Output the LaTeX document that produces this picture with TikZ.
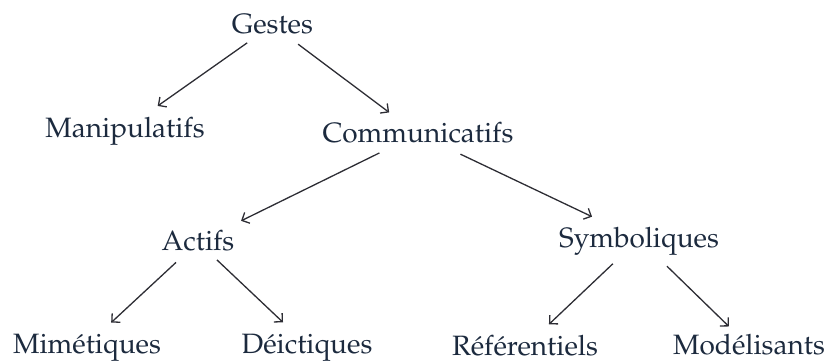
\documentclass[tikz,border=0pt]{standalone}
\usepackage[T1]{fontenc}
\usepackage{mathpazo}
\usetikzlibrary{arrows.meta}
\definecolor{labelink}{RGB}{28,42,62}
\definecolor{edgeink}{RGB}{45,45,52}
\tikzset{
  term/.style={anchor=base, inner sep=0pt, text height=20pt, text depth=4pt,
               text=labelink, font=\fontsize{28}{32}\selectfont},
  link/.style={draw=edgeink, line width=1.3pt,
               -{Straight Barb[length=6pt,width=12pt,line width=1.3pt]}},
}
\begin{document}
\begin{tikzpicture}[x=1pt,y=-1pt]
  \useasboundingbox (0,0) rectangle (828,362);

  % level 0
  \node[term] (g)  at (272.5,33)  {Gestes};
  % level 1
  \node[term] (m)  at (125,137)   {Manipulatifs};
  \node[term] (c)  at (418,142)   {Communicatifs};
  % level 2
  \node[term] (a)  at (198,250)   {Actifs};
  \node[term] (s)  at (639,247)   {Symboliques};
  % level 3
  \node[term] (mi) at (87,353)    {Mim\'etiques};
  \node[term] (d)  at (307,353)   {D\'eictiques};
  \node[term] (r)  at (525,355)   {R\'ef\'erentiels};
  \node[term] (mo) at (749,354)   {Mod\'elisants};

  % edges of the tree
  \draw[link, shorten <=31pt, shorten >=40pt] (g.center) -- (m.center);
  \draw[link, shorten <=32pt, shorten >=36pt] (g.center) -- (c.center);
  \draw[link, shorten <=43pt, shorten >=48pt] (c.center) -- (a.center);
  \draw[link, shorten <=47pt, shorten >=52pt] (c.center) -- (s.center);
  \draw[link, shorten <=30pt, shorten >=33pt] (a.center) -- (mi.center);
  \draw[link, shorten <=26pt, shorten >=33pt] (a.center) -- (d.center);
  \draw[link, shorten <=36pt, shorten >=33pt] (s.center) -- (r.center);
  \draw[link, shorten <=39pt, shorten >=28pt] (s.center) -- (mo.center);
\end{tikzpicture}
\end{document}
